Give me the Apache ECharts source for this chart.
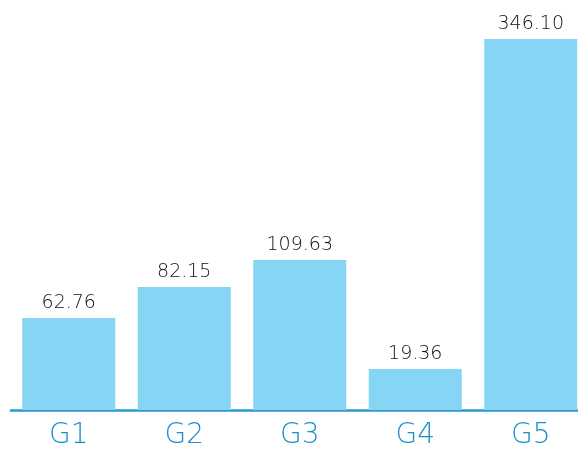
<!DOCTYPE html>
<html>
<head>
<meta charset="utf-8">
<script src="https://cdn.jsdelivr.net/npm/echarts@6/dist/echarts.min.js"></script>
<style>
  html, body { margin: 0; padding: 0; background: #fff; }
  #chart { width: 578px; height: 455px; }
</style>
</head>
<body>
<div id="chart"></div>
<script>
const categories = ['G1', 'G2', 'G3', 'G4', 'G5']
// printed values above the bars
const labels = [62.76, 82.15, 109.63, 19.36, 346.10]
// bar heights as drawn, measured against the G5 bar's scale
const heights = [85.8, 114.7, 139.9, 38.2, 346.1]

const chart = echarts.init(document.getElementById('chart'))
const option = {
  animation: false,
  grid: {
    left: 11,
    width: 577.5,
    top: 39,
    bottom: 45,
    containLabel: false,
    outerBoundsMode: 'none',
  },
  xAxis: {
    type: 'category',
    data: categories,
    axisLine: { lineStyle: { color: '#2b9bcf', width: 2.5 } },
    axisTick: { show: false },
    axisLabel: {
      color: '#1a90c9',
      fontSize: 28,
      fontFamily: 'DejaVu Sans',
      fontWeight: 300,
      margin: 12,
    },
  },
  yAxis: {
    type: 'value',
    min: 0,
    max: 346.1,
    show: false,
    splitLine: { show: false },
  },
  series: [
    {
      type: 'bar',
      data: heights,
      barWidth: 93,
      itemStyle: { color: '#87d5f4' },
      label: {
        show: true,
        position: 'top',
        distance: 5,
        color: '#111',
        fontSize: 19,
        fontFamily: 'DejaVu Sans',
        fontWeight: 300,
        formatter: (p) => labels[p.dataIndex].toFixed(2),
      },
    },
  ],
}
chart.setOption(option)
</script>
</body>
</html>
